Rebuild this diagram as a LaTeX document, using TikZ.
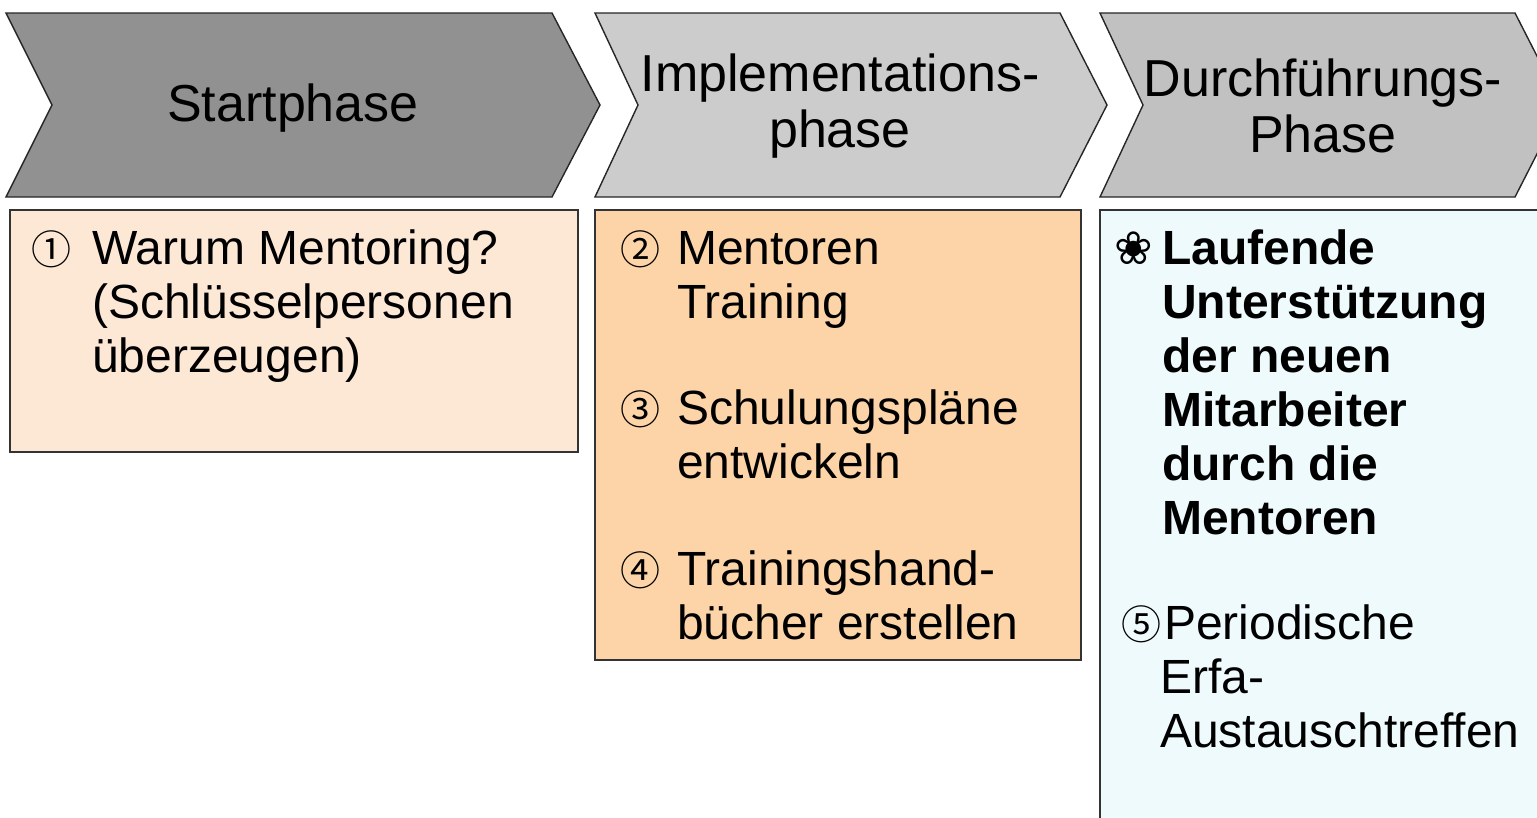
\documentclass[tikz,border=0pt]{standalone}
\usepackage{fontspec}
\setmainfont{Liberation Sans}
\newfontfamily\symfont{DejaVu Sans}
\newfontfamily\circfont{Noto Sans CJK JP}
\definecolor{chevA}{HTML}{919191}
\definecolor{chevB}{HTML}{CCCCCC}
\definecolor{chevC}{HTML}{C0C1C0}
\definecolor{boxA}{HTML}{FDE8D6}
\definecolor{boxB}{HTML}{FCD4A8}
\definecolor{boxC}{HTML}{EFFAFC}
\begin{document}
\begin{tikzpicture}[x=1pt,y=-1pt,
  chevron/.style={draw=black!85,line width=1.4pt,line join=miter},
  panel/.style={draw=black!80,line width=1.4pt},
  head/.style={font=\fontsize{52}{56}\selectfont,align=center,inner sep=0pt},
  body/.style={font=\fontsize{48}{54}\selectfont,align=left,anchor=north west,inner sep=0pt},
  num/.style={font=\circfont\fontsize{40}{54}\selectfont,anchor=base west,inner sep=0pt}]
\useasboundingbox (0,0) rectangle (1537,817);
\clip (0,0) rectangle (1537,817);

% phase chevrons
\path[chevron,fill=chevA] (6,13) -- (552,13) -- (600,105) -- (552,197) -- (6,197) -- (52,105) -- cycle;
\path[chevron,fill=chevB] (595,13) -- (1060,13) -- (1107,105) -- (1060,197) -- (595,197) -- (638,105) -- cycle;
\path[chevron,fill=chevC] (1100,13) -- (1515,13) -- (1562,105) -- (1515,197) -- (1100,197) -- (1143,105) -- cycle;

\node[head] (h1) at (293,108) {Startphase};
\node[head] (h2) at (840,106) {Implementations-\\phase};
\node[head] (h3) at (1323,106) {Durchführungs-\\Phase};

% task panels
\path[panel,fill=boxA] (10,210) rectangle (578,452);
\path[panel,fill=boxB] (595,210) rectangle (1081,660);
\path[panel,fill=boxC] (1100,210) rectangle (1560,840);

% panel 1 (text blocks start with a strut: first baseline = top + 37.8pt)
\node[num] (n1) at (31,264) {①};
\node[body] (t1) at (92,226) {\strut Warum Mentoring?\\(Schlüsselpersonen\\überzeugen)};

% panel 2
\node[num] (n2) at (620,264) {②};
\node[body] (t2) at (677,226) {\strut Mentoren\\Training};
\node[num] (n3) at (620,424) {③};
\node[body] (t3) at (677,386) {\strut Schulungspläne\\entwickeln};
\node[num] (n4) at (620,585) {④};
\node[body] (t4) at (677,547) {\strut Trainingshand-\\bücher erstellen};

% panel 3
\node[num,font=\symfont\fontsize{46}{54}\selectfont] (n5) at (1114,264) {❀};
\node[body,font=\bfseries\fontsize{48}{54}\selectfont] (t5) at (1162,226) {\strut Laufende\\Unterstützung\\der neuen\\Mitarbeiter\\durch die\\Mentoren};
\node[num] (n6) at (1121,639) {⑤};
\node[body] (t6) at (1160,601) {\strut\hspace*{4pt}Periodische\\Erfa-\\Austauschtreffen};
\end{tikzpicture}
\end{document}
